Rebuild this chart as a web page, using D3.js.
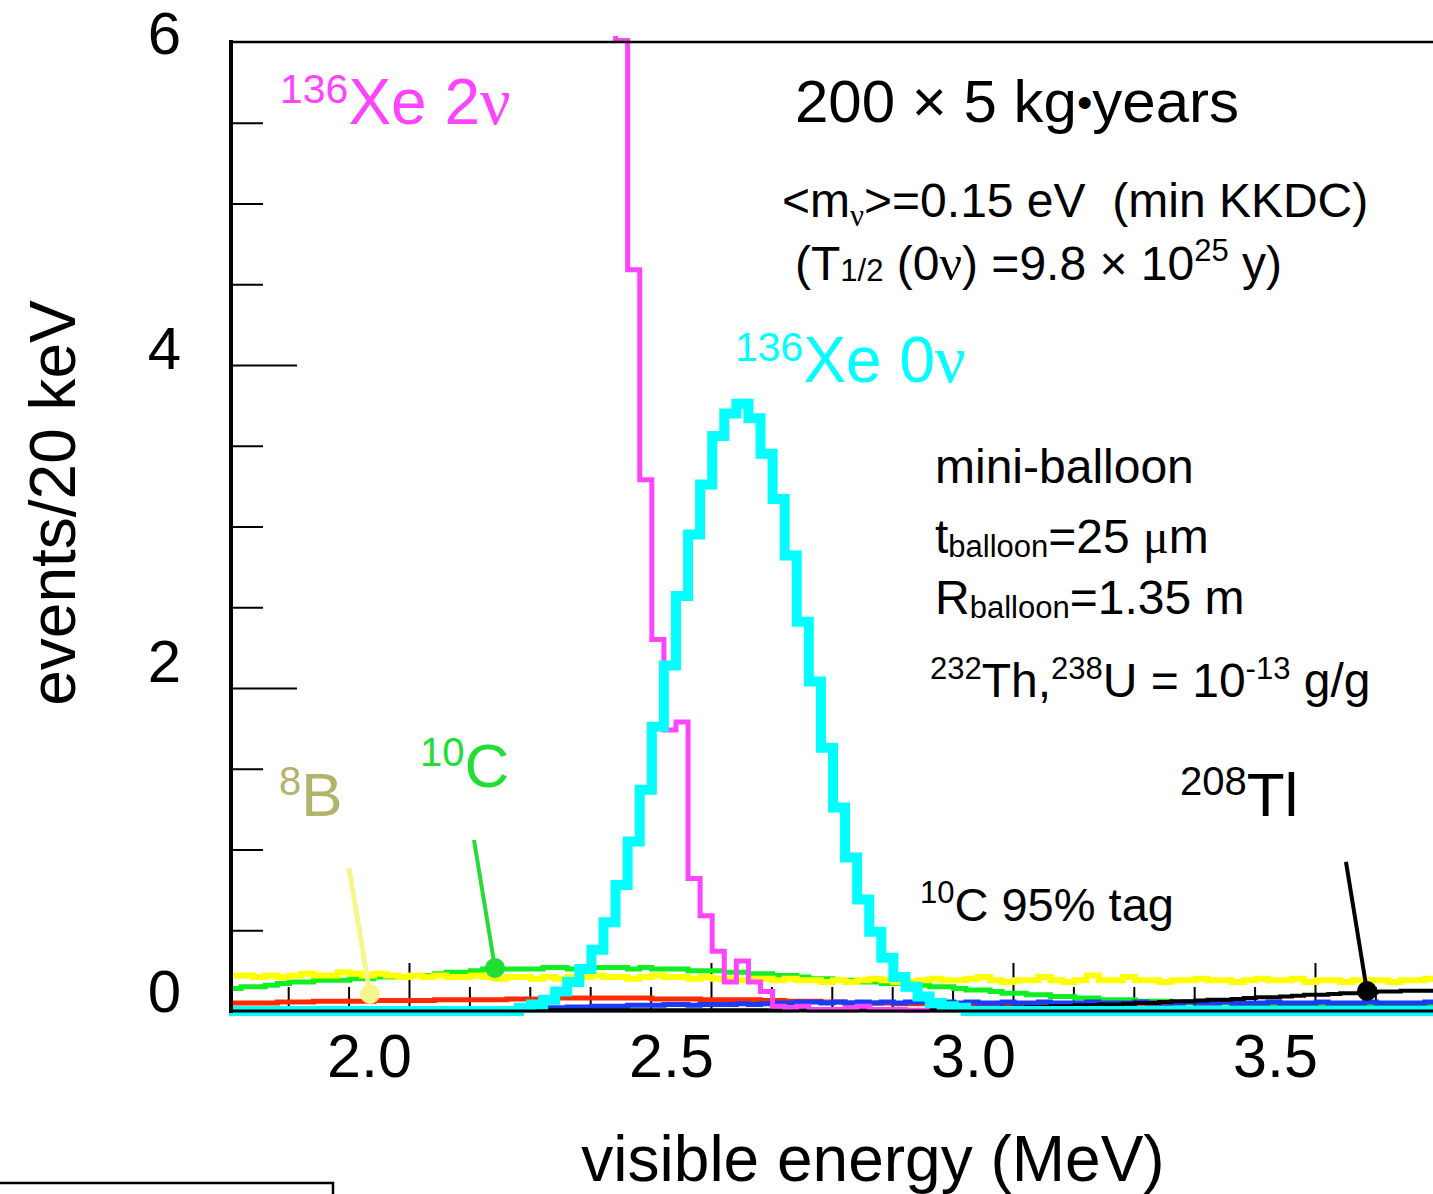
<!DOCTYPE html>
<html><head><meta charset="utf-8">
<script src="https://cdn.jsdelivr.net/npm/d3@7"></script>
<style>body{margin:0;background:#fff} svg{display:block;background:#fff} text{font-family:"Liberation Sans",Arial,sans-serif;white-space:pre}</style>
</head><body>
<svg id="chart" width="1433" height="1194"></svg>
<script>
// ---------------- data ----------------
const binStart = 1.702;   // MeV, lower edge of bin 0
const binWidth = 0.02;    // MeV (20 keV bins)

// 8B (yellow), bins 0..99
const b8 = [0.22,0.22,0.21,0.22,0.21,0.22,0.23,0.22,0.22,0.24,
 0.23,0.22,0.23,0.22,0.21,0.22,0.21,0.22,0.21,0.21,
 0.22,0.21,0.20,0.21,0.21,0.20,0.21,0.20,0.21,0.21,
 0.22,0.21,0.21,0.20,0.21,0.22,0.21,0.21,0.20,0.21,
 0.20,0.20,0.19,0.20,0.20,0.19,0.20,0.19,0.19,0.18,
 0.19,0.18,0.19,0.20,0.19,0.18,0.18,0.19,0.20,0.19,
 0.19,0.20,0.21,0.19,0.18,0.19,0.19,0.21,0.19,0.18,
 0.19,0.22,0.19,0.19,0.21,0.19,0.19,0.18,0.19,0.19,
 0.20,0.19,0.19,0.18,0.19,0.20,0.19,0.19,0.20,0.18,
 0.19,0.19,0.18,0.19,0.19,0.19,0.18,0.19,0.19,0.20];
// 10C (green), bins 0..99
const c10 = [0.14,0.15,0.15,0.16,0.17,0.18,0.18,0.19,0.19,0.19,
 0.20,0.20,0.21,0.21,0.21,0.22,0.22,0.23,0.24,0.24,
 0.25,0.26,0.26,0.26,0.26,0.26,0.27,0.27,0.26,0.27,
 0.27,0.27,0.27,0.26,0.27,0.26,0.26,0.26,0.25,0.25,
 0.25,0.24,0.24,0.23,0.23,0.22,0.22,0.21,0.20,0.20,
 0.19,0.19,0.18,0.18,0.17,0.17,0.16,0.16,0.15,0.15,
 0.14,0.13,0.13,0.12,0.11,0.11,0.10,0.10,0.09,0.09,
 0.08,0.08,0.07,0.07,0.07,0.06,0.06,0.06,0.05,0.05,
 0.05,0.05,0.05,0.04,0.04,0.04,0.04,0.04,0.04,0.04,
 0.04,0.03,0.03,0.03,0.03,0.03,0.03,0.03,0.03,0.03];
// red background, bins 0..99
const redBg = [0.05,0.05,0.05,0.05,0.055,0.055,0.055,0.06,0.06,0.06,
 0.06,0.06,0.065,0.065,0.065,0.065,0.065,0.07,0.07,0.07,
 0.07,0.07,0.07,0.075,0.075,0.075,0.075,0.08,0.08,0.08,
 0.08,0.08,0.08,0.08,0.08,0.075,0.075,0.075,0.075,0.07,
 0.07,0.07,0.07,0.07,0.065,0.065,0.06,0.06,0.06,0.055,
 0.055,0.05,0.05,0.05,0.05,0.045,0.045,0.045,0.04,0.04,
 0.04,0.035,0.035,0.035,0.03,0.03,0.03,0.03,0.025,0.025,
 0.025,0.025,0.02,0.02,0.02,0.02,0.02,0.02,0.015,0.015,
 0.015,0.015,0.015,0.015,0.01,0.01,0.01,0.01,0.01,0.01,
 0.01,0.01,0.01,0.01,0.01,0.01,0.01,0.01,0.01,0.01];
// blue background, bins 0..99
const blueBg = [0.01,0.01,0.01,0.01,0.01,0.01,0.01,0.01,0.01,0.01,
 0.01,0.01,0.01,0.01,0.01,0.01,0.01,0.01,0.01,0.01,
 0.01,0.01,0.01,0.01,0.01,0.015,0.02,0.02,0.025,0.025,
 0.03,0.03,0.03,0.035,0.035,0.035,0.04,0.04,0.035,0.04,
 0.04,0.04,0.045,0.04,0.045,0.05,0.05,0.055,0.055,0.05,
 0.055,0.05,0.055,0.05,0.055,0.05,0.055,0.055,0.05,0.055,
 0.05,0.055,0.05,0.05,0.055,0.05,0.05,0.055,0.05,0.05,
 0.05,0.055,0.05,0.05,0.05,0.055,0.05,0.05,0.05,0.055,
 0.05,0.05,0.055,0.05,0.05,0.05,0.055,0.05,0.05,0.05,
 0.055,0.05,0.05,0.05,0.055,0.05,0.05,0.05,0.05,0.055];
// 208Tl (black), bins 0..99
const tl208 = [0.005,0.005,0.005,0.005,0.005,0.005,0.005,0.005,0.005,0.005,
 0.005,0.005,0.005,0.005,0.005,0.005,0.005,0.005,0.005,0.005,
 0.005,0.005,0.005,0.005,0.005,0.005,0.005,0.005,0.005,0.005,
 0.005,0.005,0.005,0.005,0.005,0.005,0.005,0.005,0.005,0.005,
 0.005,0.005,0.005,0.005,0.005,0.005,0.005,0.012,0.005,0.005,
 0.005,0.005,0.012,0.005,0.005,0.005,0.005,0.005,0.005,0.005,
 0.01,0.01,0.015,0.015,0.02,0.02,0.025,0.025,0.03,0.03,
 0.035,0.035,0.04,0.04,0.045,0.05,0.05,0.055,0.06,0.06,
 0.065,0.07,0.07,0.075,0.08,0.085,0.085,0.09,0.095,0.1,
 0.1,0.105,0.11,0.11,0.115,0.12,0.12,0.125,0.125,0.125];
// 136Xe 2nu (magenta), starting at bin 28
const xe2nuStartBin = 28;
const xe2nu = [14,12,10,8,6.01,4.59,3.29,2.30,1.74,1.79,
 0.82,0.59,0.37,0.18,0.31,0.18,0.12,0.03,0.02,0.03,
 0.01,0.01,0.01,0.02,0.03,0.01,0.01,0.01,0.005,0.005];
// 136Xe 0nu (cyan), starting at bin 24 (zero elsewhere)
const xe0nuStartBin = 24;
const xe0nu = [0.02,0.04,0.07,0.12,0.18,0.26,0.38,0.55,0.78,1.05,
 1.37,1.76,2.14,2.57,2.95,3.26,3.56,3.70,3.76,3.67,
 3.45,3.17,2.82,2.41,2.04,1.63,1.26,0.95,0.69,0.49,
 0.33,0.21,0.15,0.09,0.05,0.03,0.02];
const nBins = 100;

// axes
const xMajorTicks = [2.0, 2.5, 3.0, 3.5];
const xTickLabels = ["2.0", "2.5", "3.0", "3.5"];
const xMinorTicks = [1.8,1.9,2.1,2.2,2.3,2.4,2.6,2.7,2.8,2.9,3.1,3.2,3.3,3.4,3.6];
const yMajorTicks = [2, 4];
const yMinorTicks = [0.5,1,1.5,2.5,3,3.5,4.5,5,5.5];
const yLabelTicks = [0, 2, 4, 6];
const yTickLabels = ["0", "2", "4", "6"];

// pointer annotations (value coordinates)
const pointerNames = ["8B", "10C", "208Tl"];
const pointerFrom = [[1.9007, 0.885], [2.1076, 1.059], [3.5513, 0.923]];
const pointerTo   = [[1.9354, 0.105], [2.1424, 0.266], [3.5861, 0.124]];

// ---------------- drawing ----------------
const svg = d3.select("#chart");
const x = d3.scaleLinear().domain([1.7053, 3.6954]).range([231, 1433]);
const y = d3.scaleLinear().domain([0, 6]).range([1011, 42]);
// the slide's tick labels sit slightly off their ticks
const yLab = d3.scaleLinear().domain([0, 2, 4, 6]).range([1011, 681, 368, 53]);

svg.append("defs").append("clipPath").attr("id", "plotclip")
  .append("rect").attr("x", 229).attr("y", 36).attr("width", 1433 - 229).attr("height", 1018 - 36);

// ticks
function tickStyle(g){ g.select(".domain").remove(); g.selectAll("line").attr("stroke","#000").attr("stroke-width",2); g.selectAll("text").remove(); }
svg.append("g").attr("transform", `translate(${x.range()[0]},0)`)
  .call(d3.axisRight(y).tickValues(yMinorTicks).tickSize(32)).call(tickStyle);
svg.append("g").attr("transform", `translate(${x.range()[0]},0)`)
  .call(d3.axisRight(y).tickValues(yMajorTicks).tickSize(66)).call(tickStyle);
svg.append("g").attr("transform", `translate(0,${y(0)})`)
  .call(d3.axisTop(x).tickValues(xMinorTicks).tickSize(24)).call(tickStyle);
svg.append("g").attr("transform", `translate(0,${y(0)})`)
  .call(d3.axisTop(x).tickValues(xMajorTicks).tickSize(48)).call(tickStyle);

// tick labels
const xl = svg.append("g").attr("transform", `translate(0,${y(0)})`)
  .call(d3.axisBottom(x).tickValues(xMajorTicks).tickSize(0).tickFormat((d,i)=>xTickLabels[i]));
xl.select(".domain").remove();
xl.selectAll("text").attr("y", 66).attr("dy", 0).attr("dx", -40)
  .attr("font-size", 61).attr("fill", "#000").attr("font-family", "Liberation Sans, Arial, sans-serif");
const yl = svg.append("g").attr("transform", `translate(181,0)`)
  .call(d3.axisLeft(yLab).tickValues(yLabelTicks).tickSize(0).tickFormat((d,i)=>yTickLabels[i]));
yl.select(".domain").remove();
yl.selectAll("text").attr("x", 0).attr("y", 0).attr("dy", 0)
  .attr("font-size", 60).attr("fill", "#000").attr("font-family", "Liberation Sans, Arial, sans-serif");

// histograms
const plot = svg.append("g").attr("clip-path", "url(#plotclip)");
const stepLine = d3.line().x(d => x(d[0])).y(d => y(d[1])).curve(d3.curveStepAfter);
function histPoints(values, startBin){
  const pts = values.map((v, i) => [binStart + (startBin + i) * binWidth, v]);
  pts.push([binStart + (startBin + values.length) * binWidth, values[values.length - 1]]);
  return pts;
}
function drawHist(values, startBin, color, width){
  plot.append("path").attr("d", stepLine(histPoints(values, startBin)))
    .attr("fill", "none").attr("stroke", color).attr("stroke-width", width)
    .attr("stroke-linejoin", "miter").attr("stroke-linecap", "butt");
}
const xe0nuFull = d3.range(nBins).map(i => (i >= xe0nuStartBin && i < xe0nuStartBin + xe0nu.length) ? xe0nu[i - xe0nuStartBin] : 0);

drawHist(redBg, 0, "#ff2a00", 5);
drawHist(c10, 0, "#11ee22", 5);
drawHist(b8, 0, "#ffff00", 6);
drawHist(blueBg, 0, "#1a3cf5", 5);
drawHist(tl208, 0, "#000000", 4);
drawHist(xe2nu, xe2nuStartBin, "#ff44ff", 5);
drawHist(xe0nuFull, 0, "#00ffff", 10);

// pointers
const pointerLineColor = ["#f6f68c", "#22dd33", "#000000"];
const pointerWidth = [5, 4, 4];
pointerNames.forEach((n, i) => {
  svg.append("line")
    .attr("x1", x(pointerFrom[i][0])).attr("y1", y(pointerFrom[i][1]))
    .attr("x2", x(pointerTo[i][0])).attr("y2", y(pointerTo[i][1]))
    .attr("stroke", pointerLineColor[i]).attr("stroke-width", pointerWidth[i]);
  svg.append("circle").attr("cx", x(pointerTo[i][0])).attr("cy", y(pointerTo[i][1]))
    .attr("r", 10).attr("fill", pointerLineColor[i]);
});

// frame
svg.append("line").attr("x1", x.range()[0]).attr("x2", x.range()[1]).attr("y1", y(6)).attr("y2", y(6))
  .attr("stroke", "#000").attr("stroke-width", 2.5);
svg.append("line").attr("x1", x.range()[0] - 2).attr("x2", x.range()[1]).attr("y1", y(0)).attr("y2", y(0))
  .attr("stroke", "#000").attr("stroke-width", 3);
svg.append("line").attr("x1", x.range()[0]).attr("x2", x.range()[0]).attr("y1", y(6) - 2).attr("y2", y(0) + 2)
  .attr("stroke", "#000").attr("stroke-width", 4);

// stray box of neighbouring figure
svg.append("path").attr("d", "M0,1183H333V1194").attr("fill", "none").attr("stroke", "#000").attr("stroke-width", 2.5);

// rich text helper
function rich(px, py, parts, color, anchor){
  const t = svg.append("text").attr("x", px).attr("y", py).attr("fill", color).attr("text-anchor", anchor || "start");
  let cur = 0;
  parts.forEach(p => {
    const shift = p.shift || 0;
    const ts = t.append("tspan").text(p.t).attr("font-size", p.s).attr("dy", shift - cur);
    if (p.serif) ts.attr("font-family", "Liberation Serif, Times New Roman, serif");
    cur = shift;
  });
  return t;
}
const SUP = -21;
rich(280, 124, [{t:"136", s:41, shift:SUP}, {t:"Xe 2", s:64}, {t:"ν", s:68, serif:true}], "#ff44ff");
rich(735, 382, [{t:"136", s:41, shift:SUP}, {t:"Xe 0", s:64}, {t:"ν", s:68, serif:true}], "#00ffff");
rich(795, 122, [{t:"200 × 5 kg", s:60}, {t:"•", s:44, shift:-4}, {t:"years", s:60}], "#000");
rich(782, 217, [{t:"<m", s:48}, {t:"ν", s:31, serif:true, shift:9}, {t:">=0.15 eV  (min KKDC)", s:48}], "#000");
rich(795, 280, [{t:"(T", s:48}, {t:"1/2", s:31, shift:1}, {t:" (0", s:48}, {t:"ν", s:50, serif:true}, {t:") =9.8 × 10", s:48}, {t:"25", s:31, shift:-19}, {t:" y)", s:48}], "#000");
rich(935, 483, [{t:"mini-balloon", s:48}], "#000");
rich(935, 553, [{t:"t", s:48}, {t:"balloon", s:31, shift:4}, {t:"=25 ", s:48}, {t:"μ", s:48, serif:true}, {t:"m", s:48}], "#000");
rich(935, 614, [{t:"R", s:48}, {t:"balloon", s:31, shift:4}, {t:"=1.35 m", s:48}], "#000");
rich(930, 697, [{t:"232", s:31, shift:-18}, {t:"Th,", s:48}, {t:"238", s:31, shift:-18}, {t:"U = 10", s:48}, {t:"-13", s:31, shift:-18}, {t:" g/g", s:48}], "#000");
rich(1180, 816, [{t:"208", s:40, shift:SUP}, {t:"Tl", s:62}], "#000");
rich(920, 921, [{t:"10", s:31, shift:-18}, {t:"C 95% tag", s:47}], "#000");
rich(279, 816, [{t:"8", s:40, shift:SUP}, {t:"B", s:62}], "#b3b36b");
rich(420, 787, [{t:"10", s:40, shift:SUP}, {t:"C", s:62}], "#22dd33");

// axis titles
svg.append("text").attr("transform", "translate(75,503) rotate(-90)").attr("text-anchor", "middle")
  .attr("font-size", 64).attr("fill", "#000").text("events/20 keV");
svg.append("text").attr("x", 873).attr("y", 1181).attr("text-anchor", "middle")
  .attr("font-size", 64).attr("fill", "#000").text("visible energy (MeV)");
</script>
</body></html>
